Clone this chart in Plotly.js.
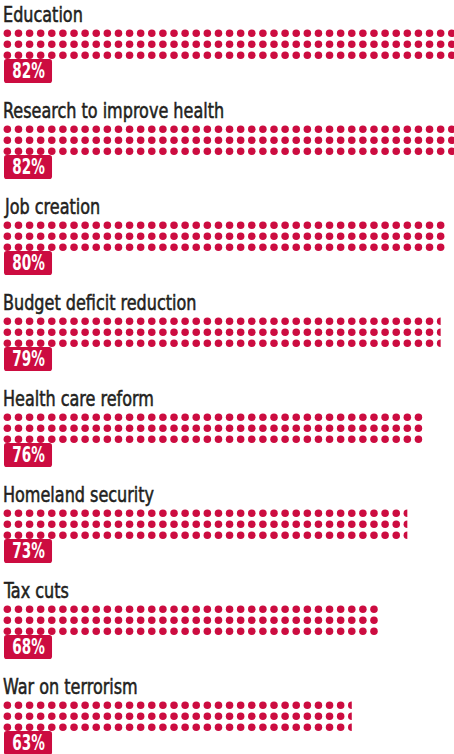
<!DOCTYPE html>
<html>
<head>
<meta charset="utf-8">
<script src="https://cdn.plot.ly/plotly-3.0.1.min.js"></script>
<style>html,body{margin:0;padding:0;background:#fff;}#chart{width:454px;height:754px;}</style>
</head>
<body>
<div id="chart"></div>
<script>
// ---- data ----
var categories = ["Education", "Research to improve health", "Job creation", "Budget deficit reduction",
                  "Health care reform", "Homeland security", "Tax cuts", "War on terrorism"];
var values = [82, 82, 80, 79, 76, 73, 68, 63];
var valueLabels = ["82%", "82%", "80%", "79%", "76%", "73%", "68%", "63%"];

// ---- style / layout constants ----
var RED = "#cc0c40";
var TEXT = "#231f20";
var FONT = "'DejaVu Sans Condensed', 'DejaVu Sans', sans-serif";
var W = 454, H = 754;
var PX_PER_UNIT_X = 5.555, X0_PX = 1.8;     // x axis: percentage points
var PITCH_PX = 96, ROW1_PX = 33.3;          // y axis: one unit per category
var ROW_GAP = 11 / PITCH_PX;                // spacing of dot rows in y units
var PCT_PER_DOT = 2, ROWS = 3;
var TITLE_SQUEEZE = 0.81, LABEL_SQUEEZE = 0.72;

var xr = [-X0_PX / PX_PER_UNIT_X, (W - X0_PX) / PX_PER_UNIT_X];
var yr = [(H - ROW1_PX) / PITCH_PX, -ROW1_PX / PITCH_PX];

var dx = [], dy = [];
var shapes = [], annotations = [];
categories.forEach(function (cat, i) {
  var v = values[i];
  var cols = Math.ceil(v / PCT_PER_DOT);
  for (var j = 0; j < ROWS; j++) {
    for (var c = 0; c < cols; c++) {
      dx.push(c * PCT_PER_DOT + PCT_PER_DOT / 2);
      dy.push(i + j * ROW_GAP);
    }
  }
  // clip the bar at its value (half dots)
  shapes.push({type: "rect", layer: "above", xref: "x", yref: "y",
    x0: v, x1: v + 1.2, y0: i - 0.6 * ROW_GAP, y1: i + (ROWS - 1 + 0.6) * ROW_GAP,
    fillcolor: "#ffffff", line: {width: 0}});
  // red label box with rounded corners
  var bx0 = 0.396, bx1 = 9.04, by0 = i + 0.268, by1 = i + 0.518;
  var rx = 0.5, ry = 0.03;
  var p = "M" + (bx0 + rx) + "," + by0 +
    " L" + (bx1 - rx) + "," + by0 + " Q" + bx1 + "," + by0 + " " + bx1 + "," + (by0 + ry) +
    " L" + bx1 + "," + (by1 - ry) + " Q" + bx1 + "," + by1 + " " + (bx1 - rx) + "," + by1 +
    " L" + (bx0 + rx) + "," + by1 + " Q" + bx0 + "," + by1 + " " + bx0 + "," + (by1 - ry) +
    " L" + bx0 + "," + (by0 + ry) + " Q" + bx0 + "," + by0 + " " + (bx0 + rx) + "," + by0 + " Z";
  shapes.push({type: "path", layer: "above", xref: "x", yref: "y", path: p,
    fillcolor: RED, line: {width: 0}});
  annotations.push({xref: "x", yref: "y", x: (bx0 + bx1) / 2, y: (by0 + by1) / 2,
    xanchor: "center", yanchor: "middle", showarrow: false, text: valueLabels[i],
    font: {family: FONT, size: 21, color: "#ffffff", weight: "bold"}});
  annotations.push({xref: "x", yref: "y", x: 0.576, y: i, xanchor: "left", yanchor: "bottom",
    align: "left", xshift: -3, yshift: 5, borderpad: 0, showarrow: false, text: cat,
    font: {family: FONT, size: 22, color: TEXT}});
});

var trace = {type: "scatter", mode: "markers", x: dx, y: dy, hoverinfo: "skip",
  marker: {color: RED, size: 7.5, line: {width: 0}}, cliponaxis: true};

var layout = {
  width: W, height: H, margin: {l: 0, r: 0, t: 0, b: 0},
  paper_bgcolor: "#fff", plot_bgcolor: "#fff", showlegend: false,
  xaxis: {range: xr, visible: false, fixedrange: true},
  yaxis: {range: yr, visible: false, fixedrange: true},
  shapes: shapes, annotations: annotations
};
Plotly.newPlot("chart", [trace], layout, {displayModeBar: false, staticPlot: true}).then(function (gd) {
  // condense the text horizontally (narrow typeface look), glyphs stay real text
  gd.querySelectorAll("g.annotation").forEach(function (g) {
    var idx = +g.getAttribute("data-index");
    var t = g.querySelector("text.annotation-text");
    if (!t) return;
    var isTitle = (idx % 2 === 1);
    var k = isTitle ? TITLE_SQUEEZE : LABEL_SQUEEZE;
    var len = t.getComputedTextLength();
    t.setAttribute("textLength", (len * k).toFixed(1));
    t.setAttribute("lengthAdjust", "spacingAndGlyphs");
    if (isTitle) {
      t.style.stroke = TEXT;
      t.style.strokeWidth = "0.55px";
    }
  });
});
</script>
</body>
</html>
